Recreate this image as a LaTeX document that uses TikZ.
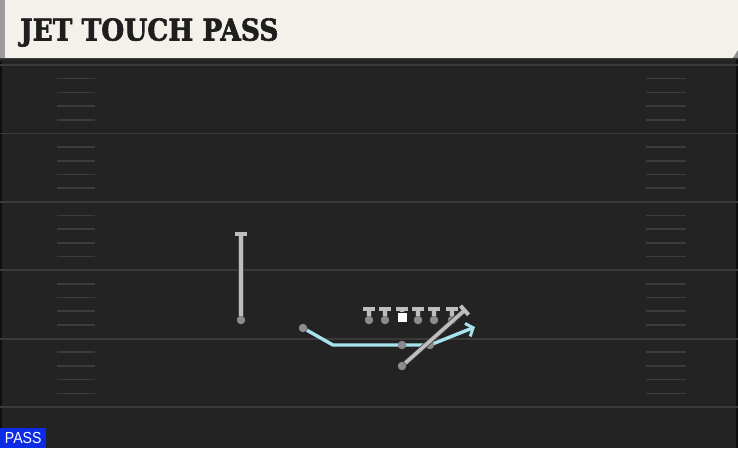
\documentclass[tikz,border=0pt]{standalone}
\usepackage{fontspec}
\usetikzlibrary{arrows.meta}
\newfontfamily\titlefont[BoldFeatures={FakeBold=2.2}]{DejaVu Serif}
\newfontfamily\tagfont{Liberation Sans}
\definecolor{fieldbg}{HTML}{232323}
\definecolor{yardclr}{HTML}{3A3A3A}
\definecolor{hashclr}{HTML}{3C3C3C}
\definecolor{headbg}{HTML}{F4F1EB}
\definecolor{headstrip}{HTML}{9C9C9C}
\definecolor{titleclr}{HTML}{1E1E1E}
\definecolor{routeclr}{HTML}{BEBEBE}
\definecolor{dotclr}{HTML}{8C8C8C}
\definecolor{jetclr}{HTML}{A8E2EE}
\definecolor{passblue}{HTML}{0B2BE6}
\tikzset{
  yardline/.style={draw=yardclr, line width=1.8pt},
  hashmark/.style={draw=hashclr, line width=1.6pt},
  plyr/.style={circle, fill=dotclr, inner sep=0pt, minimum size=8.5pt},
  ctr/.style={rectangle, fill=white, inner sep=0pt, minimum size=9pt},
  route/.style={draw=routeclr, line width=3.6pt,
    preaction={draw=black!75, line width=5.2pt}},
  blockend/.style={-{Bar[width=12pt,line width=4pt]}},
  jetpath/.style={draw=jetclr, line width=3.4pt, line join=round,
    -{Straight Barb[length=6pt,width=14pt,line width=3pt]}}
}
\begin{document}
\begin{tikzpicture}[x=1pt,y=-1pt]
  \useasboundingbox (0,0) rectangle (738,448);
  % field
  \fill[fieldbg] (0,58) rectangle (738,448);
  \draw[black!60!fieldbg, line width=2pt] (1,60) -- (1,448);
  \draw[black!60!fieldbg, line width=2pt] (737,60) -- (737,448);
  \foreach \i in {0,...,5}
    \draw[yardline] (0,65+68.4*\i) -- (738,65+68.4*\i);
  \foreach \i in {0,...,4}
    \foreach \k in {1,...,4} {
      \draw[hashmark] (57,65+68.4*\i+13.68*\k) -- (95,65+68.4*\i+13.68*\k);
      \draw[hashmark] (646,65+68.4*\i+13.68*\k) -- (686,65+68.4*\i+13.68*\k);
    }
  % header
  \fill[black!85] (0,56) rectangle (736,61);
  \fill[headbg] (0,0) -- (738,0) -- (738,50) -- (733,58) -- (0,58) -- cycle;
  \fill[dotclr] (738,50) -- (733,58) -- (738,58) -- cycle;
  \fill[headstrip] (0,0) rectangle (5,58);
  \node[anchor=west, inner sep=0pt, text=titleclr] (title) at (20,32.5)
    {\titlefont\bfseries\fontsize{30}{30}\selectfont\scalebox{0.88}[1]{JET TOUCH PASS}};
  % tag
  \node[anchor=south west, fill=passblue, text=white, inner sep=0pt,
    minimum width=46pt, minimum height=20pt] (tag) at (0,448)
    {\tagfont\fontsize{16}{16}\selectfont\scalebox{0.88}[1]{PASS}};
  % jet motion
  \node[plyr] (jet) at (303,328) {};
  \draw[jetpath] (jet) -- (333,345) -- (430,345) -- (475,327);
  % line
  \node[ctr] (c) at (402,317) {};
  \draw[route, blockend] (c) -- (402,307);
  \foreach \x/\n in {369/lt,385/lg,418/rg,434/rt,452/te} {
    \node[plyr] (\n) at (\x,320) {};
    \draw[route, blockend] (\n) -- (\x,307);
  }
  % backs
  \node[plyr] (qb) at (402,345) {};
  \node[plyr] (mesh) at (430,345) {};
  \node[plyr] (rb) at (402,366) {};
  \coordinate (rbend) at (466,309);
  \draw[route, blockend] (rb) -- (rbend);
  % split end
  \node[plyr] (wr) at (241,320) {};
  \draw[route, blockend] (wr) -- (241,232);
\end{tikzpicture}
\end{document}
